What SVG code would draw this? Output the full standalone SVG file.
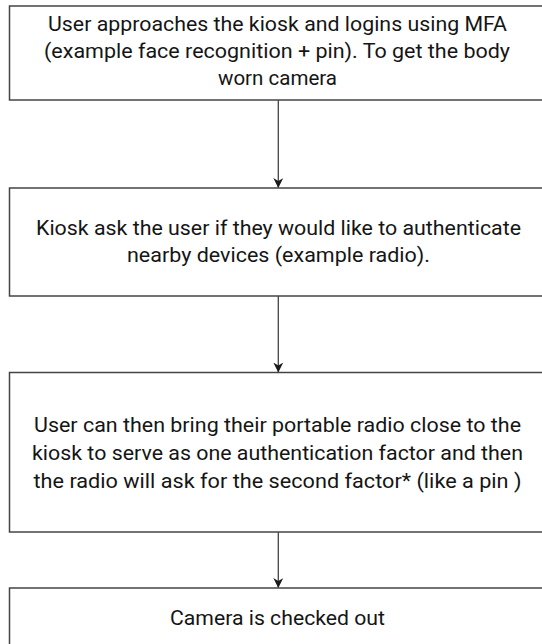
<svg xmlns="http://www.w3.org/2000/svg" width="542" height="644" viewBox="0 0 542 644">
  <style>
    .box { fill: #ffffff; stroke: #444444; stroke-width: 1.5; }
    .lbl { font-family: Roboto, "Liberation Sans", sans-serif; font-size: 21px; fill: #151515; text-anchor: middle; }
    .edge { stroke: #444444; stroke-width: 1.3; fill: none; marker-end: url(#arrow); }
  </style>
  <defs>
    <marker id="arrow" viewBox="0 0 10 10" refX="10" refY="5" markerWidth="10" markerHeight="10" orient="auto" markerUnits="userSpaceOnUse">
      <path d="M0,0 L10,5 L0,10 L3,5 Z" fill="#1a1a1a"/>
    </marker>
  </defs>
  <rect width="542" height="644" fill="#ffffff"/>

  <g id="connectors">
    <line class="edge" x1="278.3" y1="100" x2="278.3" y2="188"/>
    <line class="edge" x1="278.3" y1="296" x2="278.3" y2="372.5"/>
    <line class="edge" x1="278.3" y1="532" x2="278.3" y2="588"/>
  </g>

  <g id="step-login">
    <rect class="box" x="9.5" y="6" width="538" height="94"/>
    <text class="lbl" x="277.5" y="31" textLength="459" lengthAdjust="spacingAndGlyphs">User approaches the kiosk and logins using MFA</text>
    <text class="lbl" x="277" y="58" textLength="466" lengthAdjust="spacingAndGlyphs">(example face recognition + pin).  To get the body</text>
    <text class="lbl" x="277.5" y="85" textLength="119" lengthAdjust="spacingAndGlyphs">worn camera</text>
  </g>

  <g id="step-prompt">
    <rect class="box" x="9.5" y="188" width="538" height="108"/>
    <text class="lbl" x="278.5" y="235" textLength="485" lengthAdjust="spacingAndGlyphs">Kiosk ask the user if they would like to authenticate</text>
    <text class="lbl" x="278.5" y="262" textLength="303" lengthAdjust="spacingAndGlyphs">nearby devices (example radio).</text>
  </g>

  <g id="step-radio">
    <rect class="box" x="9.5" y="372.5" width="538" height="159.5"/>
    <text class="lbl" x="277.5" y="432" textLength="487" lengthAdjust="spacingAndGlyphs">User can then bring their portable radio close to the</text>
    <text class="lbl" x="277.5" y="460" textLength="491" lengthAdjust="spacingAndGlyphs">kiosk to serve as one authentication factor and then</text>
    <text class="lbl" x="277.5" y="488" textLength="488" lengthAdjust="spacingAndGlyphs">the radio will ask for the second factor* (like a pin )</text>
  </g>

  <g id="step-checkout">
    <rect class="box" x="9.5" y="588" width="538" height="70"/>
    <text class="lbl" x="277.5" y="625" textLength="215" lengthAdjust="spacingAndGlyphs">Camera is checked out</text>
  </g>
</svg>
